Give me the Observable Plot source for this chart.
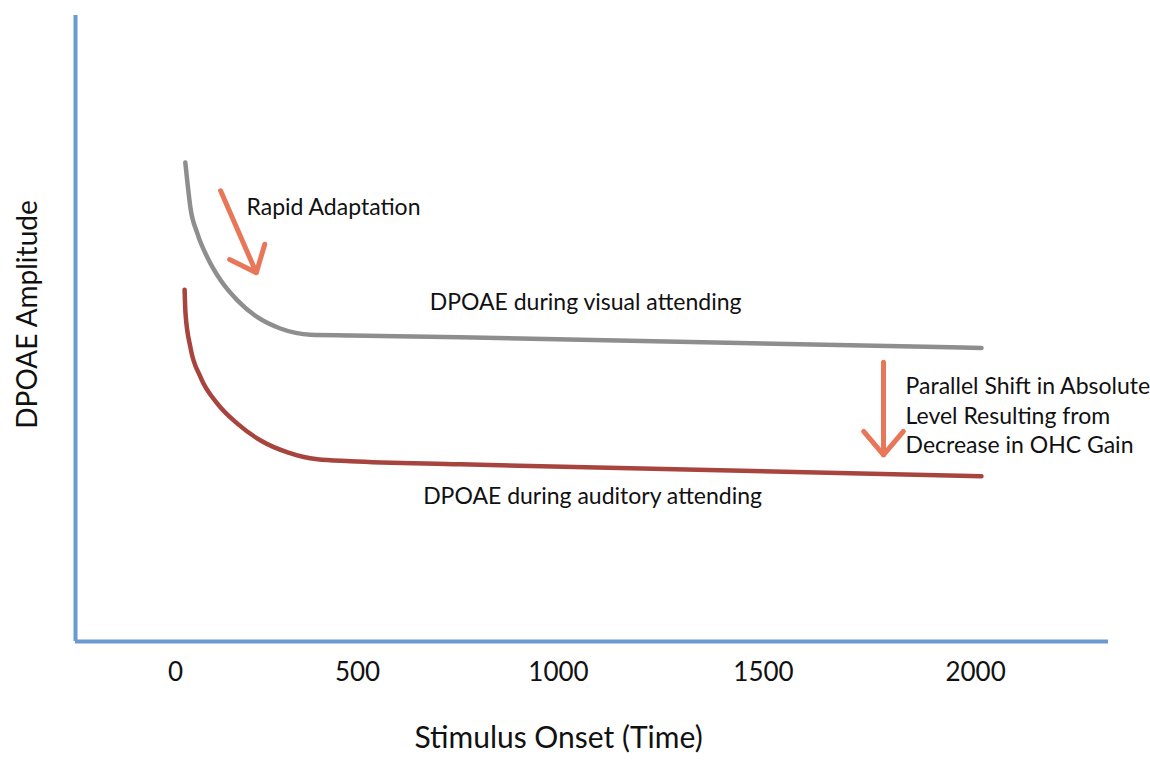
<!DOCTYPE html>
<html>
<head>
<meta charset="utf-8">
<script src="https://cdn.jsdelivr.net/npm/d3@7"></script>
<script src="https://cdn.jsdelivr.net/npm/@observablehq/plot@0.6"></script>
<style>
  html, body { margin: 0; padding: 0; background: #fff; }
  svg { display: block; }
</style>
</head>
<body>
<div id="chart"></div>
<script>
// Time values (arbitrary units) and amplitude (arbitrary units)
const visualTime = [27, 33, 41, 60, 88, 124, 170, 225, 288, 371, 481, 756, 2014];
const visualAmp  = [76.5, 73.2, 69.3, 65.2, 61.3, 57.7, 54.5, 51.8, 50.0, 49.0, 48.9, 48.6, 46.9];
const auditoryTime = [25, 27.5, 41, 69, 115, 170, 234, 308, 390, 481, 756, 2014];
const auditoryAmp  = [56.2, 52.4, 47.0, 42.2, 38.0, 34.8, 32.1, 30.2, 29.1, 28.8, 28.3, 26.4];
const xTickValues = [0, 500, 1000, 1500, 2000];
// relative positions of the (unevenly spaced) tick labels along the axis, 0..1
const xTickSpots = [0.0968, 0.2730, 0.4676, 0.6660, 0.8713];

const visual = visualTime.map((t, i) => ({t, a: visualAmp[i]}));
const auditory = auditoryTime.map((t, i) => ({t, a: auditoryAmp[i]}));

const xMin = -275, xMax = 2314;
const warp = d3.scaleLinear().domain([xMin, ...xTickValues, xMax]).range([0, ...xTickSpots, 1]);

const blue = "#6a9ad0", gray = "#8e8e8e", red = "#a8443e", orange = "#e8775a";
const font = "Lato, 'Open Sans', sans-serif";

const arrows = [
  {x1: 124, y1: 72.0, x2: 222, y2: 58.9},
  {x1: 1783, y1: 44.6, x2: 1783, y2: 29.8}
];
const labels = [
  {x: 195, y: 69.6, text: "Rapid Adaptation", anchor: "start"},
  {x: 1066, y: 54.2, text: "DPOAE during visual attending", anchor: "middle"},
  {x: 1083, y: 23.1, text: "DPOAE during auditory attending", anchor: "middle"},
  {x: 1835, y: 36.3, text: "Parallel Shift in Absolute\nLevel Resulting from\nDecrease in OHC Gain", anchor: "start"}
];

const chart = Plot.plot({
  width: 1150,
  height: 768,
  marginLeft: 75,
  marginRight: 42,
  marginTop: 15,
  marginBottom: 127,
  style: {fontFamily: font, background: "#fff"},
  x: {transform: warp, domain: [0, 1], axis: null},
  y: {domain: [0, 100], axis: null},
  marks: [
    Plot.line(visual, {x: "t", y: "a", stroke: gray, strokeWidth: 4.5, curve: "monotone-x"}),
    Plot.line(auditory, {x: "t", y: "a", stroke: red, strokeWidth: 4.5, curve: "monotone-x"}),
    Plot.arrow(arrows, {x1: "x1", y1: "y1", x2: "x2", y2: "y2", stroke: orange, strokeWidth: 5, headLength: 12, headAngle: 80}),
    Plot.text(labels.filter(d => d.anchor === "start"), {x: "x", y: "y", text: "text", textAnchor: "start", lineAnchor: "middle", fontSize: 23, lineHeight: 1.28, fill: "#111"}),
    Plot.text(labels.filter(d => d.anchor === "middle"), {x: "x", y: "y", text: "text", textAnchor: "middle", lineAnchor: "middle", fontSize: 23, fill: "#111"}),
    Plot.ruleX([xMin], {stroke: blue, strokeWidth: 4}),
    Plot.ruleY([0], {stroke: blue, strokeWidth: 4}),
    Plot.text(xTickValues, {x: d => d, frameAnchor: "bottom", dy: 31, lineAnchor: "middle", text: d => String(d), fontSize: 26, fill: "#111"}),
    Plot.text(["Stimulus Onset (Time)"], {x: 1000, frameAnchor: "bottom", dy: 97, lineAnchor: "middle", textAnchor: "middle", fontSize: 30, fill: "#111"}),
    Plot.text(["DPOAE Amplitude"], {frameAnchor: "left", dx: -47, dy: -14, rotate: -90, textAnchor: "middle", lineAnchor: "middle", fontSize: 28, fill: "#111"})
  ]
});
document.getElementById("chart").appendChild(chart);
</script>
</body>
</html>
